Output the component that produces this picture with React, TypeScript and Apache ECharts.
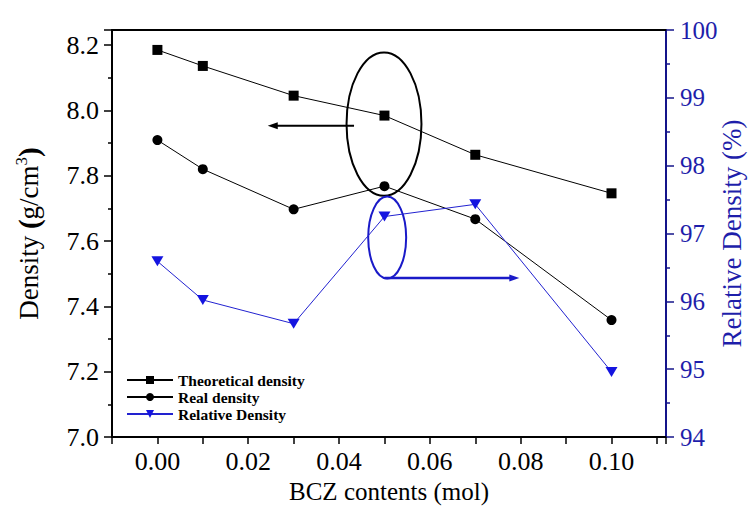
import React, { useEffect, useRef } from 'react';
import * as echarts from 'echarts';

// ---- data ----
const contents = [0, 0.01, 0.03, 0.05, 0.07, 0.1];
const theoreticalDensity = [8.185, 8.136, 8.045, 7.984, 7.864, 7.746];
const realDensity = [7.909, 7.82, 7.697, 7.768, 7.667, 7.358];
const relativeDensity = [96.59, 96.02, 95.67, 97.25, 97.43, 94.96];

const xTickLabels = ['0.00', '0.02', '0.04', '0.06', '0.08', '0.10'];
const leftTickLabels = ['7.0', '7.2', '7.4', '7.6', '7.8', '8.0', '8.2'];
const rightTickLabels = ['94', '95', '96', '97', '98', '99', '100'];

// annotations in data space: [x, y, halfWidthX, halfHeightY]
const blackEllipse = [0.0499, 7.958, 0.00825, 0.2195];
const blackArrow = [0.0433, 0.0243, 7.953]; // from x, to x, y (left axis)
const blueEllipse = [0.0506, 96.94, 0.00418, 0.604];
const blueArrow = [0.0500, 0.0797, 96.345]; // from x, to x, y (right axis)

const FONT = '"Liberation Serif", "Times New Roman", serif';
const NAVY = '#14148a';
const BLUE_TEXT = '#1e1eaa';
const BLUE = '#1414e0';

export default function App() {
  const ref = useRef<HTMLDivElement>(null);
  useEffect(() => {
    if (!ref.current) return;
    const chart = echarts.init(ref.current, undefined, { renderer: 'svg' });
    const option: any = {
      animation: false,
      backgroundColor: '#fff',
      grid: { left: 112, right: 87, top: 30, bottom: 70, containLabel: false, outerBoundsMode: 'none' },
      legend: {
        orient: 'vertical',
        left: 121,
        top: 367,
        itemWidth: 46,
        itemHeight: 10,
        itemGap: 1,
        textStyle: { fontFamily: FONT, fontWeight: 'bold', fontSize: 15.5, color: '#000' },
        data: ['Theoretical density', 'Real density', 'Relative Density'],
      },
      xAxis: [
        {
          type: 'value',
          min: -0.01,
          max: 0.112,
          interval: 0.01,
          name: 'BCZ contents (mol)',
          nameLocation: 'middle',
          nameGap: 42,
          nameMoveOverlap: false,
          nameTextStyle: { fontFamily: FONT, fontSize: 25, color: '#000' },
          axisLine: { show: true, onZero: false, lineStyle: { color: '#000', width: 2 } },
          axisTick: { show: true, inside: false, length: 7, lineStyle: { color: '#000', width: 1.5 } },
          axisLabel: {
            margin: 11,
            fontFamily: FONT,
            fontSize: 26,
            color: '#000',
            formatter: (v: number) => {
              const s = v.toFixed(2);
              return xTickLabels.includes(s) && Math.abs(v - parseFloat(s)) < 1e-6 ? s : '';
            },
          },
          splitLine: { show: false },
        },
        {
          type: 'value',
          position: 'top',
          min: -0.01,
          max: 0.112,
          axisLine: { show: true, onZero: false, lineStyle: { color: '#000', width: 2 } },
          axisTick: { show: false },
          axisLabel: { show: false },
          splitLine: { show: false },
        },
      ],
      yAxis: [
        {
          type: 'value',
          min: 7.0,
          max: 8.246,
          interval: 0.2,
          position: 'left',
          name: 'Density {b|(}g/cm{sup|3}{b|)}',
          nameLocation: 'middle',
          nameRotate: 90,
          nameGap: 67,
          nameMoveOverlap: false,
          nameTextStyle: {
            fontFamily: FONT,
            fontSize: 27,
            color: '#000',
            rich: {
              sup: { fontFamily: FONT, fontSize: 17, color: '#000', padding: [0, 0, 15, 0] },
              b: { fontFamily: FONT, fontSize: 29, fontWeight: 'bold', color: '#000' },
            },
          },
          axisLine: { show: true, onZero: false, lineStyle: { color: '#000', width: 2 } },
          axisTick: { show: true, inside: false, length: 8, lineStyle: { color: '#000', width: 1.5 } },
          minorTick: { show: true, splitNumber: 2, length: 4, lineStyle: { color: '#000', width: 1.5 } },
          axisLabel: {
            margin: 13,
            fontFamily: FONT,
            fontSize: 26,
            color: '#000',
            showMaxLabel: false,
            formatter: (v: number) => {
              const s = v.toFixed(1);
              return leftTickLabels.includes(s) ? s : '';
            },
          },
          splitLine: { show: false },
        },
        {
          type: 'value',
          min: 94,
          max: 100,
          interval: 1,
          position: 'right',
          name: 'Relative Density (%)',
          nameLocation: 'middle',
          nameRotate: 90,
          nameGap: 52,
          nameMoveOverlap: false,
          nameTextStyle: { fontFamily: FONT, fontSize: 27, color: BLUE_TEXT },
          axisLine: { show: true, onZero: false, lineStyle: { color: NAVY, width: 2 } },
          axisTick: { show: true, inside: false, length: 8, lineStyle: { color: NAVY, width: 1.5 } },
          minorTick: { show: true, splitNumber: 2, length: 4, lineStyle: { color: NAVY, width: 1.5 } },
          axisLabel: {
            margin: 14,
            fontFamily: FONT,
            fontSize: 25,
            color: BLUE_TEXT,
            formatter: (v: number) => {
              const s = String(Math.round(v));
              return rightTickLabels.includes(s) ? s : '';
            },
          },
          splitLine: { show: false },
        },
      ],
      series: [
        {
          name: 'Theoretical density',
          type: 'line',
          xAxisIndex: 0,
          yAxisIndex: 0,
          data: contents.map((x, i) => [x, theoreticalDensity[i]]),
          symbol: 'rect',
          symbolSize: 10,
          lineStyle: { color: '#000', width: 1 },
          itemStyle: { color: '#000' },
        },
        {
          name: 'Real density',
          type: 'line',
          xAxisIndex: 0,
          yAxisIndex: 0,
          data: contents.map((x, i) => [x, realDensity[i]]),
          symbol: 'circle',
          symbolSize: 10,
          lineStyle: { color: '#000', width: 1 },
          itemStyle: { color: '#000' },
        },
        {
          name: 'Relative Density',
          type: 'line',
          xAxisIndex: 0,
          yAxisIndex: 1,
          data: contents.map((x, i) => [x, relativeDensity[i]]),
          symbol: 'path://M0,0L12,0L6,10Z',
          symbolSize: [12, 10],
          lineStyle: { color: '#2222d0', width: 1 },
          itemStyle: { color: BLUE },
        },
      ],
    };
    chart.setOption(option);

    const toL = (x: number, y: number) => chart.convertToPixel({ xAxisIndex: 0, yAxisIndex: 0 }, [x, y]) as number[];
    const toR = (x: number, y: number) => chart.convertToPixel({ xAxisIndex: 0, yAxisIndex: 1 }, [x, y]) as number[];

    const be0 = toL(blackEllipse[0], blackEllipse[1]);
    const be1 = toL(blackEllipse[0] + blackEllipse[2], blackEllipse[1] + blackEllipse[3]);
    const ba0 = toL(blackArrow[0], blackArrow[2]);
    const ba1 = toL(blackArrow[1], blackArrow[2]);
    const ue0 = toR(blueEllipse[0], blueEllipse[1]);
    const ue1 = toR(blueEllipse[0] + blueEllipse[2], blueEllipse[1] + blueEllipse[3]);
    const ua0 = toR(blueArrow[0], blueArrow[2]);
    const ua1 = toR(blueArrow[1], blueArrow[2]);

    const head = (p: number[], dir: number, color: string) => ({
      type: 'polygon',
      shape: { points: [[p[0], p[1]], [p[0] - dir * 10, p[1] - 3.5], [p[0] - dir * 10, p[1] + 3.5]] },
      style: { fill: color },
    });

    chart.setOption({
      graphic: [
        {
          type: 'ellipse',
          shape: { cx: be0[0], cy: be0[1], rx: Math.abs(be1[0] - be0[0]), ry: Math.abs(be1[1] - be0[1]) },
          style: { fill: 'none', stroke: '#000', lineWidth: 2 },
        },
        {
          type: 'line',
          shape: { x1: ba0[0], y1: ba0[1], x2: ba1[0] + 6, y2: ba1[1] },
          style: { stroke: '#000', lineWidth: 2 },
        },
        head(ba1, -1, '#000'),
        {
          type: 'ellipse',
          shape: { cx: ue0[0], cy: ue0[1], rx: Math.abs(ue1[0] - ue0[0]), ry: Math.abs(ue1[1] - ue0[1]) },
          style: { fill: 'none', stroke: '#1a1ac8', lineWidth: 2 },
        },
        {
          type: 'line',
          shape: { x1: ua0[0], y1: ua0[1], x2: ua1[0] - 6, y2: ua1[1] },
          style: { stroke: '#1a1ac8', lineWidth: 2.5 },
        },
        head(ua1, 1, '#1a1ac8'),
      ],
    });

    return () => chart.dispose();
  }, []);

  return (
    <div
      ref={ref}
      style={{ position: 'fixed', left: 0, top: 0, width: 753, height: 507, background: '#fff' }}
    />
  );
}
